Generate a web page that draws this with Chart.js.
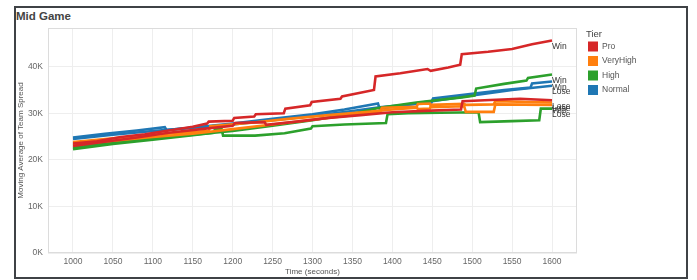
<!DOCTYPE html>
<html lang="en">
<head>
  <meta charset="UTF-8">
  <title>Mid Game</title>
  <script src="https://cdn.jsdelivr.net/npm/chart.js"></script>
  <style>
    body { margin: 0; background: #fff; }
    #frame { position: absolute; left: 14px; top: 6px; width: 674px; height: 273px;
             box-sizing: border-box; border: 2px solid #3f4246; }
    #title { position: absolute; left: 16px; top: 10px; font: bold 11.5px "Liberation Sans", Arial, sans-serif;
             color: #444; }
    #wrap { position: absolute; left: 0; top: 0; width: 697px; height: 280px; }
  </style>
</head>
<body>
  <div id="frame"></div>
  <div id="title">Mid Game</div>
  <div id="wrap"><canvas id="midGame" width="697" height="280"></canvas></div>

  <script>
    // tiers and their colours (legend order)
    const tiers = ['Pro', 'VeryHigh', 'High', 'Normal'];
    const tierColors = ['#d62728', '#ff7f0e', '#2ca02c', '#1f77b4'];

    // axis ticks
    const xTicks = [1000, 1050, 1100, 1150, 1200, 1250, 1300, 1350, 1400, 1450, 1500, 1550, 1600];
    const yTicks = [0, 10, 20, 30, 40];
    const yTickLabels = ['0K', '10K', '20K', '30K', '40K'];

    // moving average of team spread, [time (s), value in K]
    const proWin = [[1000,23.5],[1030,24.0],[1060,24.9],[1090,25.5],[1120,26.3],[1150,27.1],[1168,27.8],[1170,28.2],
      [1200,28.4],[1202,29.0],[1227,29.3],[1229,29.8],[1264,30.0],[1266,31.0],[1297,31.7],[1299,32.4],[1335,33.1],
      [1337,33.6],[1377,35.0],[1379,37.9],[1410,38.6],[1444,39.5],[1448,39.1],[1470,39.8],[1485,40.4],[1487,42.7],
      [1520,43.2],[1550,43.8],[1575,44.8],[1600,45.6]];
    const proLose = [[1000,23.0],[1040,23.9],[1080,24.8],[1120,25.8],[1160,26.6],[1200,27.3],[1203,27.9],[1240,28.1],
      [1242,27.5],[1280,28.2],[1320,29.0],[1360,29.6],[1400,30.2],[1440,30.5],[1486,30.8],[1488,32.6],[1530,32.9],
      [1560,33.1],[1600,32.8]];
    const veryHighWin = [[1000,23.8],[1050,24.6],[1100,25.4],[1150,26.0],[1170,26.2],[1172,27.2],[1220,27.9],[1270,28.8],
      [1320,29.6],[1370,30.3],[1400,30.8],[1430,31.2],[1432,32.0],[1447,32.1],[1449,31.3],[1490,31.5],[1492,30.3],
      [1527,30.3],[1529,31.9],[1600,31.8]];
    const veryHighLose = [[1000,23.3],[1050,24.1],[1100,24.9],[1150,25.6],[1200,26.6],[1250,27.6],[1300,28.6],[1350,29.6],
      [1385,30.4],[1387,31.2],[1430,31.4],[1432,30.9],[1447,31.0],[1449,31.8],[1490,32.0],[1492,31.8],[1527,31.9],
      [1529,32.6],[1600,32.3]];
    const highWin = [[1000,22.6],[1050,23.7],[1100,24.6],[1150,25.4],[1200,26.2],[1250,27.3],[1300,28.5],[1350,29.9],
      [1384,31.2],[1430,32.3],[1487,33.4],[1503,33.8],[1505,35.3],[1540,36.3],[1568,37.0],[1570,37.6],[1600,38.3]];
    const highLose = [[1000,22.3],[1050,23.4],[1100,24.3],[1150,25.3],[1176,25.8],[1178,26.6],[1186,26.7],[1188,25.2],
      [1228,25.2],[1265,25.7],[1298,26.7],[1300,27.2],[1340,27.6],[1392,27.9],[1394,29.8],[1420,30.0],[1460,30.1],
      [1508,30.2],[1510,28.1],[1550,28.3],[1584,28.5],[1586,31.0],[1600,31.0]];
    const normalWin = [[1000,24.5],[1050,25.4],[1100,26.2],[1150,26.9],[1200,27.6],[1250,28.5],[1300,29.4],[1350,30.5],
      [1384,31.3],[1449,32.3],[1451,33.2],[1500,34.2],[1540,35.0],[1573,35.5],[1575,36.4],[1600,36.8]];
    const normalLose = [[1000,24.8],[1040,25.6],[1080,26.3],[1115,27.0],[1117,26.4],[1160,27.1],[1200,27.8],[1250,28.8],
      [1300,29.8],[1340,30.8],[1382,32.1],[1384,31.0],[1450,32.6],[1500,33.8],[1550,35.0],[1600,35.9]];

    const series = [
      { tier: 0, label: 'Win', pts: proWin }, { tier: 0, label: 'Lose', pts: proLose },
      { tier: 1, label: 'Win', pts: veryHighWin }, { tier: 1, label: 'Lose', pts: veryHighLose },
      { tier: 2, label: 'Win', pts: highWin }, { tier: 2, label: 'Lose', pts: highLose },
      { tier: 3, label: 'Win', pts: normalWin }, { tier: 3, label: 'Lose', pts: normalLose }
    ];

    const font = '"Liberation Sans", Arial, sans-serif';

    // light box round the plot area
    const plotBox = {
      id: 'plotBox',
      beforeDatasetsDraw(chart) {
        const a = chart.chartArea, c = chart.ctx;
        c.save();
        c.strokeStyle = '#dcdcdc';
        c.lineWidth = 1;
        c.strokeRect(Math.round(a.left) + 0.5, Math.round(a.top) + 0.5,
                     Math.round(a.right - a.left) - 1, Math.round(a.bottom - a.top) - 1);
        c.restore();
      }
    };

    // Win / Lose labels at line ends
    const endLabels = {
      id: 'endLabels',
      afterDatasetsDraw(chart) {
        const c = chart.ctx;
        c.save();
        c.font = '8.5px ' + font;
        c.fillStyle = '#333';
        c.textBaseline = 'middle';
        chart.data.datasets.forEach((ds, i) => {
          const pts = chart.getDatasetMeta(i).data;
          const p = pts[pts.length - 1];
          c.fillText(ds.endLabel, p.x, p.y + 6);
        });
        c.restore();
      }
    };

    // Tier legend on the right
    const tierLegend = {
      id: 'tierLegend',
      afterDraw(chart) {
        const c = chart.ctx;
        c.save();
        c.textBaseline = 'middle';
        c.font = '9.5px ' + font;
        c.fillStyle = '#444';
        c.fillText('Tier', 586, 34);
        c.font = '8.5px ' + font;
        tiers.forEach((t, i) => {
          const cy = 46.5 + i * 14.5;
          c.fillStyle = tierColors[i];
          c.fillRect(588, cy - 5, 10, 10);
          c.fillStyle = '#555';
          c.fillText(t, 602, cy);
        });
        c.restore();
      }
    };

    const ctx = document.getElementById('midGame').getContext('2d');
    new Chart(ctx, {
      type: 'line',
      data: {
        datasets: series.map(s => ({
          label: tiers[s.tier] + ' ' + s.label,
          endLabel: s.label,
          data: s.pts.map(p => ({ x: p[0], y: p[1] })),
          borderColor: tierColors[s.tier],
          borderWidth: 2.6,
          pointRadius: 0,
          tension: 0,
          fill: false
        }))
      },
      options: {
        responsive: false,
        animation: false,
        events: [],
        layout: { padding: { left: 16, top: 28, right: 120, bottom: 0 } },
        plugins: { legend: { display: false }, tooltip: { enabled: false } },
        scales: {
          x: {
            type: 'linear',
            min: 968.7,
            max: 1631.3,
            afterBuildTicks: s => { s.ticks = xTicks.map(v => ({ value: v })); },
            afterFit: s => { s.height = 27; },
            grid: { color: '#eeeeee', drawTicks: false },
            border: { display: false },
            ticks: { padding: 4, color: '#666', font: { family: font, size: 8.5 }, maxRotation: 0,
                     callback: v => String(v) },
            title: { display: true, text: 'Time (seconds)', color: '#555',
                     font: { family: font, size: 8 }, padding: { top: 0, bottom: 3 } }
          },
          y: {
            min: 0,
            max: 48.3,
            afterBuildTicks: s => { s.ticks = yTicks.map(v => ({ value: v })); },
            afterFit: s => { s.width = 32; },
            grid: { color: '#eeeeee', drawTicks: false },
            border: { display: false },
            ticks: { padding: 5, color: '#666', font: { family: font, size: 8.5 },
                     callback: v => yTickLabels[yTicks.indexOf(v)] },
            title: { display: true, text: 'Moving Average of Team Spread', color: '#555',
                     font: { family: font, size: 8 }, padding: { top: 0, bottom: 0 } }
          }
        }
      },
      plugins: [plotBox, endLabels, tierLegend]
    });
  </script>
</body>
</html>
